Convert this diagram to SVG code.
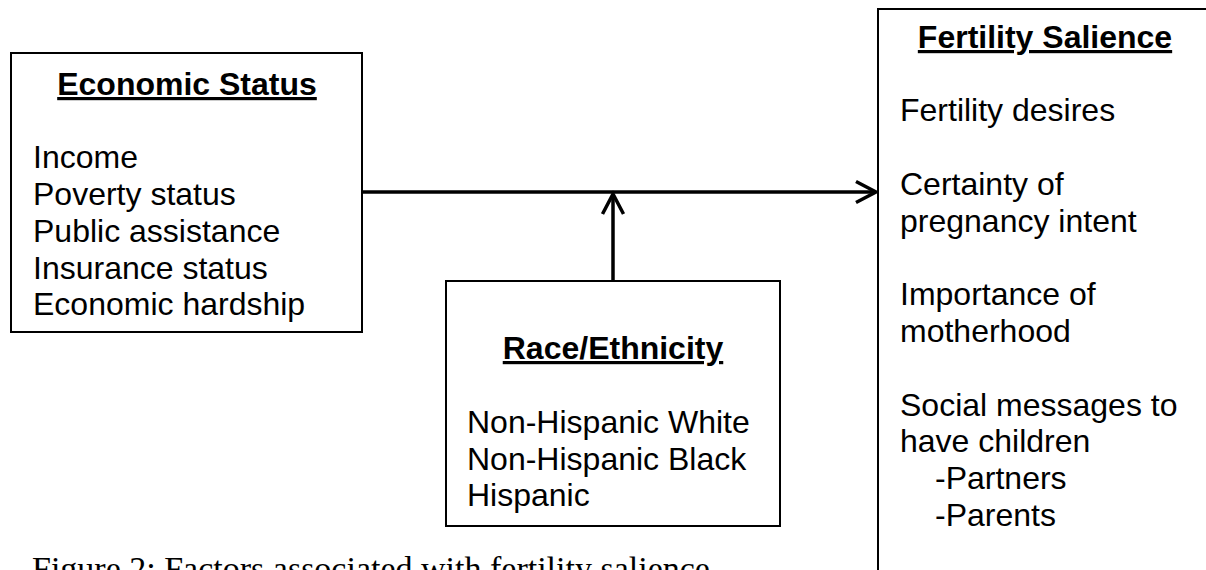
<svg xmlns="http://www.w3.org/2000/svg" width="1206" height="570" viewBox="0 0 1206 570">
<style>
.box{fill:#fff;stroke:#000;stroke-width:2}
.t{font-family:"Liberation Sans",Arial,sans-serif;font-size:32px;fill:#000}
.h{font-weight:bold;text-decoration:underline;text-anchor:middle}
.c{stroke:#000;stroke-width:3.5;fill:none}
.cap{font-family:"Liberation Serif","DejaVu Serif",serif;font-size:34px;fill:#000}
</style>
<defs>
<marker id="arr" markerUnits="userSpaceOnUse" viewBox="-4 -4 30 30" refX="20" refY="10.5" markerWidth="30" markerHeight="30" orient="auto">
<path d="M0,0 L20,10.5 L0,21" fill="none" stroke="#000" stroke-width="3.5"/>
</marker>
</defs>
<rect width="1206" height="570" fill="#fff"/>
<g id="connectors">
<path class="c" d="M362,192 H876" marker-end="url(#arr)"/>
<path class="c" d="M613,281 V194" marker-end="url(#arr)"/>
</g>
<g id="economic-status">
<rect class="box" x="11" y="53" width="351" height="279"/>
<text class="t h" x="187" y="95">Economic Status</text>
<text class="t" x="33" y="168">Income</text>
<text class="t" x="33" y="205">Poverty status</text>
<text class="t" x="33" y="242">Public assistance</text>
<text class="t" x="33" y="279">Insurance status</text>
<text class="t" x="33" y="315">Economic hardship</text>
</g>
<g id="race-ethnicity">
<rect class="box" x="446" y="281" width="334" height="245"/>
<text class="t h" x="613" y="359">Race/Ethnicity</text>
<text class="t" x="467" y="433">Non-Hispanic White</text>
<text class="t" x="467" y="470">Non-Hispanic Black</text>
<text class="t" x="467" y="506">Hispanic</text>
</g>
<g id="fertility-salience">
<rect class="box" x="878" y="9" width="334" height="600"/>
<text class="t h" x="1045" y="48">Fertility Salience</text>
<text class="t" x="900" y="121">Fertility desires</text>
<text class="t" x="900" y="195">Certainty of</text>
<text class="t" x="900" y="232">pregnancy intent</text>
<text class="t" x="900" y="305">Importance of</text>
<text class="t" x="900" y="342">motherhood</text>
<text class="t" x="900" y="416">Social messages to</text>
<text class="t" x="900" y="452">have children</text>
<text class="t" x="935" y="489">-Partners</text>
<text class="t" x="935" y="526">-Parents</text>
</g>
<g id="caption">
<text class="cap" x="32" y="580">Figure 2: Factors associated with fertility salience</text>
</g>
</svg>
